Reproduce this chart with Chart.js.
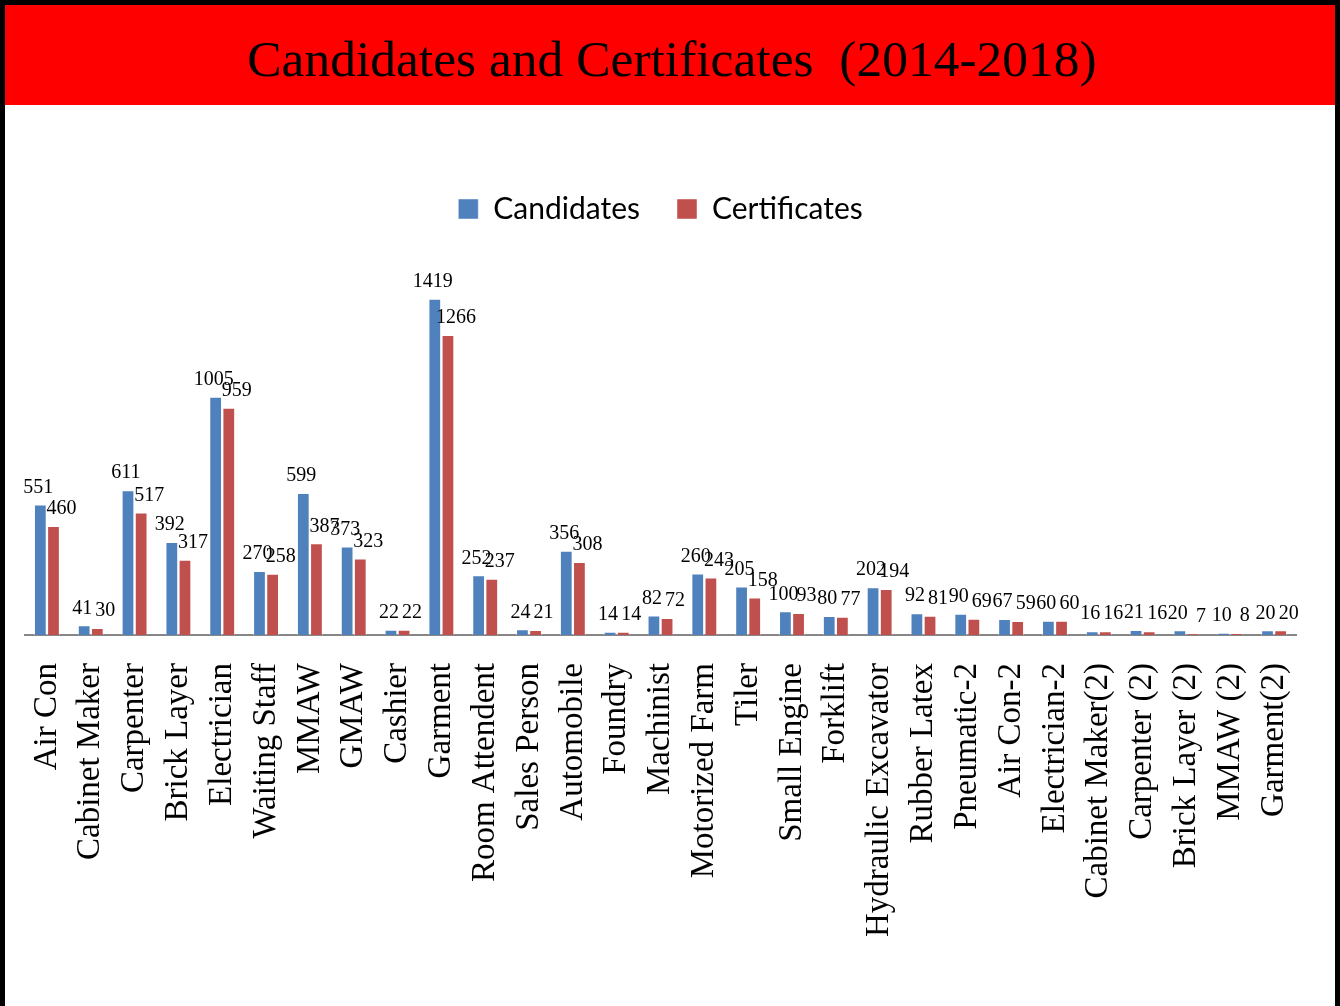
<!DOCTYPE html>
<html>
<head>
<meta charset="utf-8">
<script src="https://cdn.jsdelivr.net/npm/chart.js@4"></script>
<style>
  html, body { margin: 0; padding: 0; background: #fff; }
  #frame { position: absolute; left: 0; top: 0; width: 1340px; height: 1006px; box-sizing: border-box;
           border: 5px solid #000; border-bottom: none; background: #fff; }
  #band { position: absolute; left: 0; top: 0; width: 1330px; height: 100px; background: #ff0000;
          display: flex; align-items: center; justify-content: center; }
  #band h1 { margin: 0; font-family: "Liberation Serif", "Times New Roman", serif; font-weight: normal;
             font-size: 51.5px; color: #000; white-space: pre; position: relative; left: 2px; top: 3px; }
  #wrap { position: absolute; left: 0; top: 100px; width: 1330px; height: 901px; }
</style>
</head>
<body>
<div id="frame">
  <div id="band"><h1>Candidates and Certificates  (2014-2018)</h1></div>
  <div id="wrap"><canvas id="c"></canvas></div>
</div>
<script>
const categories = ["Air Con", "Cabinet Maker", "Carpenter", "Brick Layer", "Electrician", "Waiting Staff",
  "MMAW", "GMAW", "Cashier", "Garment", "Room Attendent", "Sales Person", "Automobile", "Foundry",
  "Machinist", "Motorized Farm", "Tiler", "Small Engine", "Forklift", "Hydraulic Excavator",
  "Rubber Latex", "Pneumatic-2", "Air Con-2", "Electrician-2", "Cabinet Maker(2)", "Carpenter (2)",
  "Brick Layer (2)", "MMAW (2)", "Garment(2)"];
const candidates = [551, 41, 611, 392, 1005, 270, 599, 373, 22, 1419, 252, 24, 356, 14, 82, 260, 205,
  100, 80, 202, 92, 90, 67, 60, 16, 21, 20, 10, 20];
const certificates = [460, 30, 517, 317, 959, 258, 387, 323, 22, 1266, 237, 21, 308, 14, 72, 243, 158,
  93, 77, 194, 81, 69, 59, 60, 16, 16, 7, 8, 20];

const valueLabels = {
  id: 'valueLabels',
  afterDatasetsDraw(chart, args, opts) {
    const ctx = chart.ctx;
    ctx.save();
    ctx.font = opts.font;
    ctx.fillStyle = '#000';
    ctx.textAlign = 'center';
    ctx.textBaseline = 'middle';
    chart.data.datasets.forEach((ds, di) => {
      const meta = chart.getDatasetMeta(di);
      meta.data.forEach((el, i) => {
        ctx.fillText(String(ds.data[i]), el.x + opts.dx[di], el.y - opts.dy);
      });
    });
    ctx.restore();
  }
};

new Chart(document.getElementById('c'), {
  type: 'bar',
  data: {
    labels: categories,
    datasets: [
      { label: 'Candidates', data: candidates, backgroundColor: '#4F81BD',
        borderColor: 'rgba(255,255,255,0.45)', borderWidth: 1 },
      { label: 'Certificates', data: certificates, backgroundColor: '#C0504D',
        borderColor: 'rgba(255,255,255,0.45)', borderWidth: 1 }
    ]
  },
  options: {
    responsive: true,
    maintainAspectRatio: false,
    animation: false,
    datasets: { bar: { categoryPercentage: 0.6, barPercentage: 0.97 } },
    layout: { padding: { left: 20, right: 39, top: 52, bottom: 0 } },
    scales: {
      x: {
        grid: { display: false },
        border: { display: true, color: '#868686', width: 2 },
        ticks: { color: '#000', maxRotation: 90, minRotation: 90, autoSkip: false, padding: 20,
                 font: { family: 'Liberation Serif', size: 33 } },
        afterFit(scale) { scale.height = 371; }
      },
      y: { display: false, min: 0, max: 1692 }
    },
    plugins: {
      legend: {
        position: 'top',
        labels: { color: '#000', boxWidth: 20, boxHeight: 20, padding: 37,
                  font: { family: 'Lato', size: 30 } }
      },
      tooltip: { enabled: false },
      valueLabels: { font: '20px "Liberation Serif"', dx: [-2, 8], dy: 17 }
    }
  },
  plugins: [valueLabels]
});
</script>
</body>
</html>
